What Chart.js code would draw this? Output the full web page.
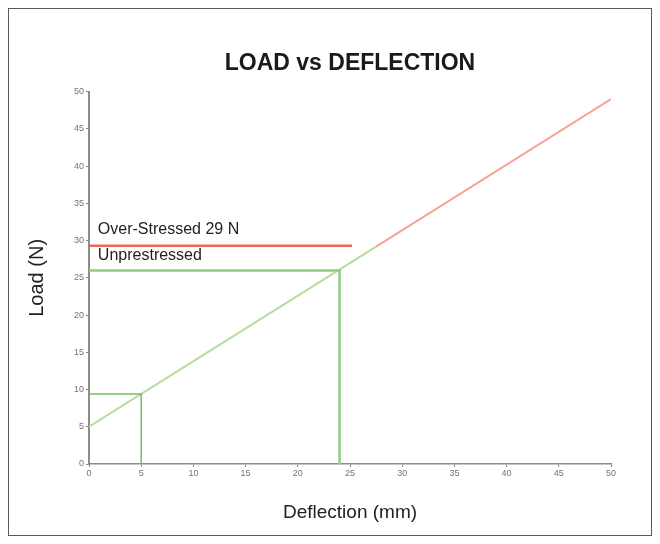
<!DOCTYPE html>
<html>
<head>
<meta charset="utf-8">
<script src="https://cdn.jsdelivr.net/npm/chart.js@4"></script>
<style>
    html, body { margin: 0; padding: 0; background: #fff; }
    #wrap { position: relative; width: 660px; height: 544px; }
    #frame { position: absolute; left: 8px; top: 8px; width: 642px; height: 526px; border: 1.5px solid #5a5a5a; }
    canvas { position: absolute; left: 0; top: 0; }
</style>
</head>
<body>
<div id="wrap">
    <div id="frame"></div>
    <canvas id="loadChart" width="660" height="544"></canvas>
</div>
<script>
const fontFamily = '"Liberation Sans", Arial, Helvetica, sans-serif';

// load line, split where it crosses the over-stress level
const greenLineX = [0, 27.5];
const greenLineY = [5, 29.2];
const redLineX = [27.5, 50];
const redLineY = [29.2, 49];

// over-stressed level
const overStressX = [0, 25.2];
const overStressY = [29.3, 29.3];

// unprestressed marker (24 mm / 26 N)
const unprestX = [0, 24, 24];
const unprestY = [26, 26, 0];

// marker at 5 mm
const smallX = [0, 5, 5];
const smallY = [9.4, 9.4, 0];

// axis range
const xMin = 0, xMax = 50, xStep = 5;
const yMin = 0, yMax = 50, yStep = 5;

// text labels in chart
const noteTexts = ['Over-Stressed 29 N', 'Unprestressed'];
const noteX = [0.85, 0.85];
const noteY = [31.5, 28.05];

function toPoints(xs, ys) {
    return xs.map((x, i) => ({ x: x, y: ys[i] }));
}

function lineSet(xs, ys, color, width) {
    return {
        data: toPoints(xs, ys),
        borderColor: color,
        backgroundColor: color,
        borderWidth: width,
        showLine: true,
        pointRadius: 0,
        fill: false,
        tension: 0
    };
}

// draws the two notes above the horizontal lines
const notesPlugin = {
    id: 'notes',
    afterDatasetsDraw(chart) {
        const ctx = chart.ctx;
        const xs = chart.scales.x;
        const ys = chart.scales.y;
        ctx.save();
        ctx.font = '16px ' + fontFamily;
        ctx.fillStyle = '#222';
        ctx.textAlign = 'left';
        ctx.textBaseline = 'middle';
        noteTexts.forEach((t, i) => {
            ctx.fillText(t, xs.getPixelForValue(noteX[i]), ys.getPixelForValue(noteY[i]));
        });
        ctx.restore();
    }
};

const tickFont = { family: fontFamily, size: 9 };
const tickColor = '#7d6f74';

let ctx = document.getElementById('loadChart').getContext('2d');
let loadChart = new Chart(ctx, {
    type: 'scatter',
    data: {
        datasets: [
            lineSet(smallX, smallY, '#78ba66', 1.5),
            lineSet(unprestX, unprestY, '#95ca82', 2.5),
            lineSet(greenLineX, greenLineY, '#b7dc9f', 2),
            lineSet(redLineX, redLineY, '#f4a595', 2),
            lineSet(overStressX, overStressY, '#ef6a4f', 2.5)
        ]
    },
    options: {
        responsive: false,
        animation: false,
        devicePixelRatio: 1,
        layout: { padding: { left: 0, right: 49, top: 0, bottom: 0 } },
        plugins: {
            legend: { display: false },
            tooltip: { enabled: false },
            title: {
                display: true,
                text: 'LOAD vs DEFLECTION',
                fullSize: false,
                color: '#1a1a1a',
                font: { family: fontFamily, size: 23, weight: 'bold' },
                padding: { top: 49.7, bottom: 14.4 }
            }
        },
        scales: {
            x: {
                type: 'linear',
                min: xMin,
                max: xMax,
                afterFit: (scale) => { scale.height = 80; },
                border: { color: '#8c8c8c', width: 1.5 },
                grid: { drawOnChartArea: false, tickLength: 3, color: '#8c8c8c' },
                ticks: { stepSize: xStep, font: tickFont, color: tickColor, padding: 1, maxRotation: 0 },
                title: {
                    display: true,
                    text: 'Deflection (mm)',
                    color: '#222',
                    font: { family: fontFamily, size: 19 },
                    padding: { top: 0, bottom: 19.6 }
                }
            },
            y: {
                type: 'linear',
                min: yMin,
                max: yMax,
                afterFit: (scale) => { scale.width = 89; },
                border: { color: '#8c8c8c', width: 2 },
                grid: { drawOnChartArea: false, tickLength: 3, color: '#8c8c8c' },
                ticks: { stepSize: yStep, font: tickFont, color: tickColor, padding: 2 },
                title: {
                    display: true,
                    text: 'Load (N)',
                    color: '#222',
                    font: { family: fontFamily, size: 20 },
                    padding: { top: 25, bottom: 0 }
                }
            }
        }
    },
    plugins: [notesPlugin]
});
</script>
</body>
</html>
